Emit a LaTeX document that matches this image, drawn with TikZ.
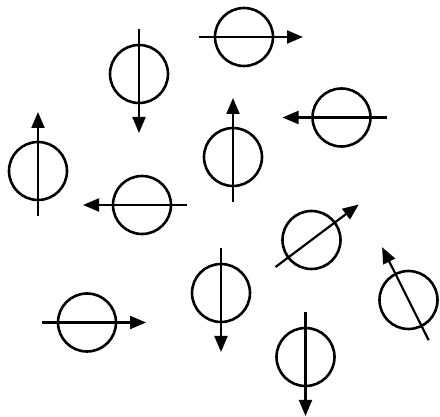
\documentclass[tikz,border=0pt]{standalone}
\usetikzlibrary{arrows.meta,calc}
\begin{document}
\begin{tikzpicture}[x=1pt,y=1pt,
  mag/.style={circle,draw=black,line width=2.6pt,minimum size=58pt,inner sep=0pt},
  spin/.style={draw=black,line width=2.2pt,-{Triangle[length=16pt,width=13pt]}}]
\useasboundingbox (0,0) rectangle (440,417);
\foreach \n/\x/\y/\a in {1/139/343/-90, 2/244/380/0, 3/341.5/299.5/180, 4/233/260/90,
  5/38/246/90, 6/142/212/180, 7/311.5/177/36.9, 8/408.5/117/116.6,
  9/221/124/-90, 10/87/94.5/0, 11/305.5/60/-90} {
  \node[mag] (c\n) at (\x,\y) {};
  \coordinate (t\n) at ($(c\n.center)+(\a+180:45)$);
  \coordinate (h\n) at ($(c\n.center)+(\a:59)$);
  \draw[spin] (t\n) -- (h\n);
}
\end{tikzpicture}
\end{document}
